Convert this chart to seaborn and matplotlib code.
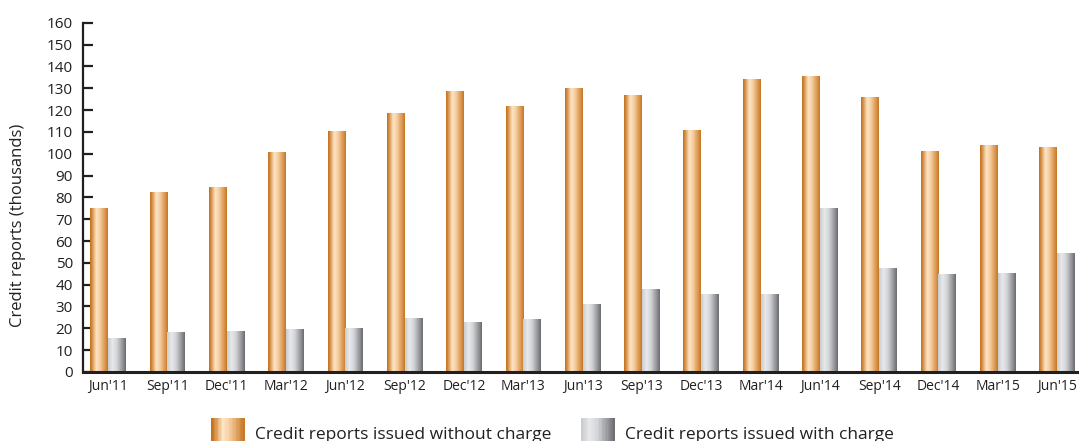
import numpy as np
import pandas as pd
import matplotlib
matplotlib.use("Agg")
import matplotlib.pyplot as plt
from matplotlib.colors import LinearSegmentedColormap
from matplotlib.patches import Rectangle
from matplotlib.legend_handler import HandlerBase
import seaborn as sns

quarters = ["Jun'11", "Sep'11", "Dec'11", "Mar'12", "Jun'12", "Sep'12", "Dec'12",
            "Mar'13", "Jun'13", "Sep'13", "Dec'13", "Mar'14", "Jun'14", "Sep'14",
            "Dec'14", "Mar'15", "Jun'15"]
without_charge = [75.1, 82.4, 84.7, 100.8, 110.4, 118.6, 128.7, 121.8, 130.1, 126.9,
                  110.9, 134.2, 135.6, 126.0, 101.2, 104.0, 103.1]
with_charge = [15.6, 18.3, 18.8, 19.7, 20.2, 24.7, 22.9, 24.3, 31.1, 38.0,
               35.7, 35.7, 75.1, 47.6, 44.9, 45.3, 54.5]
series_names = ["Credit reports issued without charge",
                "Credit reports issued with charge"]
y_ticks = list(range(0, 161, 10))

df = pd.DataFrame({
    "quarter": quarters * 2,
    "value": without_charge + with_charge,
    "series": [series_names[0]] * len(quarters) + [series_names[1]] * len(quarters),
})

# cylinder-style shading for each series
orange_cmap = LinearSegmentedColormap.from_list(
    "copper_tube",
    [(0.0, "#c06f1c"), (0.12, "#d58f45"), (0.35, "#fde4c6"), (0.55, "#f6cfa3"),
     (0.85, "#d9944c"), (1.0, "#c47722")])
gray_cmap = LinearSegmentedColormap.from_list(
    "steel_tube",
    [(0.0, "#c9cbce"), (0.25, "#e8e9eb"), (0.5, "#d2d3d6"), (0.8, "#96979b"),
     (1.0, "#6a6b6f")])
cmaps = [orange_cmap, gray_cmap]
flat_colors = ["#e8a868", "#b0b2b5"]

sns.set_theme(style="white")
plt.rcParams["font.family"] = ["Open Sans", "DejaVu Sans"]

fig = plt.figure(figsize=(10.79, 4.41), dpi=100)
ax = fig.add_axes([0.0766, 0.1565, 0.9234, 0.792])

sns.barplot(data=df, x="quarter", y="value", hue="series", order=quarters,
            hue_order=series_names, palette=flat_colors, width=0.6,
            legend=False, ax=ax, linewidth=0, saturation=1)

grad = np.linspace(0, 1, 256).reshape(1, -1)
n = len(quarters)
for i, patch in enumerate(list(ax.patches)):
    cmap = cmaps[i // n]
    x0, y0 = patch.get_x(), patch.get_y()
    w, h = patch.get_width(), patch.get_height()
    im = ax.imshow(grad, cmap=cmap, aspect="auto",
                   extent=[x0, x0 + w, y0, y0 + h], zorder=2,
                   interpolation="bilinear")
    im.set_clip_path(patch)
    patch.set_facecolor("none")

ax.set_xlim(-0.43, n - 1 + 0.37)
ax.set_ylim(0, 160)
ax.set_yticks(y_ticks)
ax.set_xlabel("")
ax.set_ylabel("Credit reports (thousands)", fontsize=12, color="#231f20")
ax.yaxis.set_label_coords(-0.057, 0.42)

for side in ["top", "right"]:
    ax.spines[side].set_visible(False)
ax.spines["left"].set_color("#231f20")
ax.spines["left"].set_linewidth(1.6)
ax.spines["bottom"].set_color("#231f20")
ax.spines["bottom"].set_linewidth(2.2)
ax.spines["bottom"].set_zorder(5)

ax.tick_params(axis="y", direction="in", length=7.5, width=1.6, color="#231f20",
               labelsize=11, labelcolor="#231f20", pad=7, left=True)
ax.tick_params(axis="x", length=0, labelsize=10, labelcolor="#231f20", pad=5)
ax.grid(False)


class GradientHandler(HandlerBase):
    def __init__(self, cmap):
        super().__init__()
        self.cmap = cmap

    def create_artists(self, legend, orig_handle, xdescent, ydescent, width,
                       height, fontsize, trans):
        steps = 24
        artists = []
        for k in range(steps):
            r = Rectangle((-xdescent + width * k / steps, -ydescent - 4),
                          width / steps + 0.3, height + 8,
                          facecolor=self.cmap((k + 0.5) / steps),
                          edgecolor="none", transform=trans)
            artists.append(r)
        return artists


h1 = Rectangle((0, 0), 1, 1)
h2 = Rectangle((0, 0), 1, 1)
fig.legend([h1, h2], series_names, loc="center", ncol=2, frameon=False,
           bbox_to_anchor=(0.512, 0.017), fontsize=12.5, handlelength=1.9,
           handleheight=1.3, columnspacing=1.75, handletextpad=0.6,
           labelcolor="#231f20",
           handler_map={h1: GradientHandler(orange_cmap),
                        h2: GradientHandler(gray_cmap)})

fig.savefig("out.png", dpi=100)
